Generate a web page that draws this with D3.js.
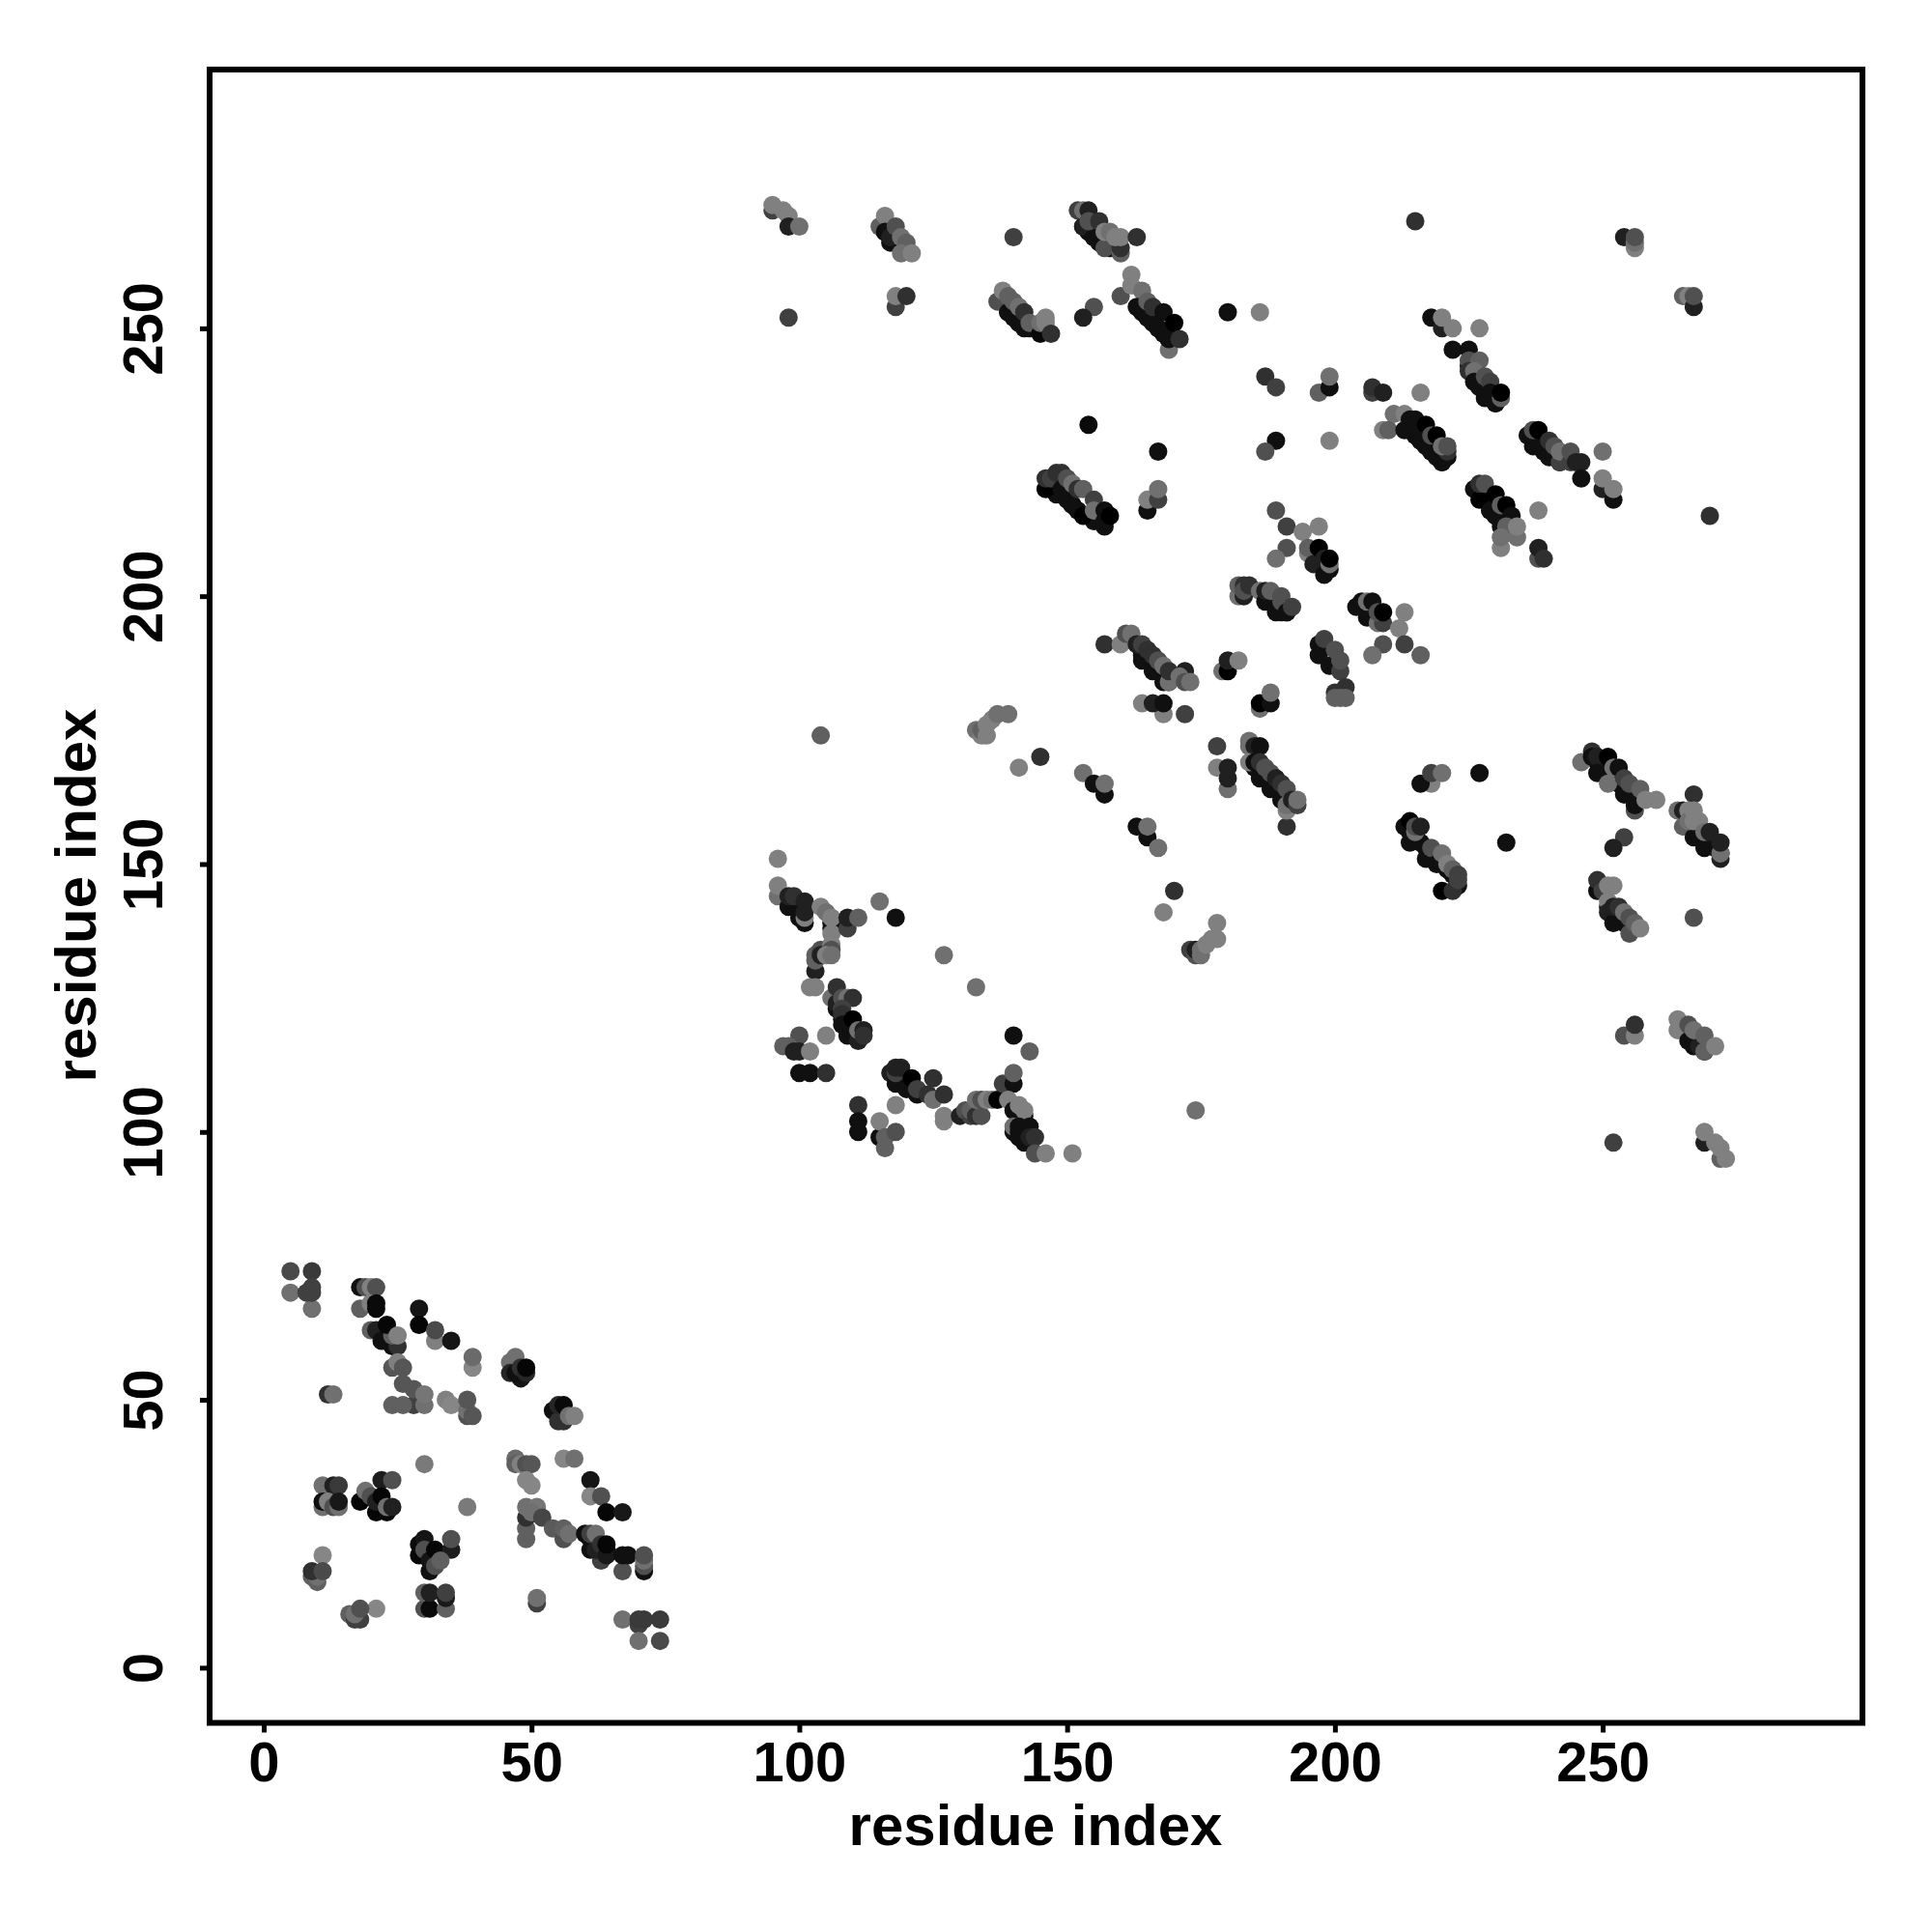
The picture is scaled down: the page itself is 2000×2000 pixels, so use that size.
<!DOCTYPE html>
<html><head><meta charset="utf-8"><script src="https://cdn.jsdelivr.net/npm/d3@7"></script>
<style>html,body{margin:0;background:#fff}text{font-family:"Liberation Sans",Arial,sans-serif;font-weight:bold;fill:#000}</style></head>
<body><div id="c"></div>
<script>
const xTicks=[0,50,100,150,200,250], yTicks=[0,50,100,150,200,250];
const axisTitle="residue index";
// contacts: [residue i, residue j, level]
const diagonalEdges=[[147,220,1],[148,219,1],[150,218,1],[151,217,1],[152,216,1],[154,215,1],[155,214,1],[156,214,1],[157,213,1],[164,253,1],[165,252,1],[166,251,1],[167,250,1],[168,249,1],[169,248,1],[170,248,1],[139,253,1],[140,252,1],[141,251,1],[142,250,1],[143,250,1],[153,269,1],[154,268,1],[155,267,1],[156,266,1],[157,266,1],[158,265,1],[116,268,1],[117,267,1],[118,266,1],[119,265,1],[225,243,1],[226,241,1],[227,240,1],[228,238,1],[229,237,1],[230,236,1],[214,231,1],[215,230,1],[216,229,1],[217,228,1],[218,227,1],[219,226,1],[220,225,1],[221,226,1],[237,229,1],[238,228,1],[239,227,1],[240,226,1],[241,226,1],[242,225,1],[227,219,1],[228,218,1],[229,216,1],[230,215,1],[231,214,1],[232,213,1],[164,189,1],[165,188,1],[166,187,1],[167,186,1],[168,185,1],[169,184,1],[185,168,1],[186,167,1],[187,166,1],[188,165,1],[189,164,1],[190,163,1],[191,162,1],[187,200,1],[188,199,1],[189,198,1],[190,197,1],[191,197,1],[214,156,1],[215,155,1],[216,154,1],[217,153,1],[218,152,1],[219,151,1],[220,150,1],[221,149,1],[222,148,1],[223,146,1],[249,169,1],[250,168,1],[251,167,1],[252,166,1],[253,165,1],[254,164,1],[255,163,1],[256,162,1],[268,156,1],[269,155,1],[270,154,1],[271,153,1],[272,152,1],[251,142,1],[252,141,1],[253,140,1],[254,139,1],[255,138,1],[266,118,1],[267,117,1],[268,116,1],[269,115,1],[107,123,1],[108,121,1],[109,120,1],[110,118,1],[119,110,1],[120,109,1],[121,108,1],[122,107,1],[140,105,1],[141,104,1],[142,103,1],[141,99,1],[142,99,1],[98,143,1],[99,142,1],[100,141,1],[101,139,1],[106,139,1],[61,24,1],[62,23,1],[63,21,1],[64,22,1],[22,63,1],[23,61,1],[24,61,1]];
const lowerBlock=[[5,74,4.6],[9,74,3.6],[5,70,7],[9,67,7],[8,70,4],[9,71,4],[9,70,4],[18,71,1],[19,71,5],[20,71,8],[21,71,5],[18,67,6],[20,68,8],[21,68,.6],[21,67,.6],[20,63,6],[21,63,2],[22,62,2],[22,61,1],[24,60,1],[25,60,3],[24,62,6],[23,64,.4],[25,62,8],[29,67,1.3],[29,64,.4],[32,61,8],[32,63,4.6],[35,61,1.3],[39,56,8.4],[39,58,6.6],[24,56,5.4],[25,57,8],[26,53,5.4],[26,56,5.4],[28,49,4],[28,52,5.4],[24,49,6],[26,49,6],[30,49,7],[30,51,7.4],[12,51,3],[13,51,7],[34,50,8],[35,49,8.4],[38,47,5],[38,48,7],[39,47,5.4],[38,50,5.4],[47,58,7],[46,57,7],[46,55,2.4],[48,54,1.3],[47,55,1],[48,56,3],[49,55,2.4],[49,56,.4],[54,48,1],[55,46,3],[56,46,3],[55,49,2.4],[56,49,.6],[57,47,7],[58,47,8],[47,39,6.6],[47,38,6],[48,38,8],[49,38,5],[50,38,5.4],[49,35,8.4],[50,34,8.4],[56,39,8.4],[58,39,7],[61,35,1.3],[61,32,8.4],[63,32,5],[64,29,.4],[67,29,1.5],[49,26,6],[49,24,6],[49,28,3],[49,30,7],[51,30,7.4],[50,29,7],[52,28,4.4],[54,26,5.6],[56,24,5],[56,26,6],[57,25,7],[60,25,1],[61,22,1],[63,20,4],[62,22,2],[61,25,4],[62,25,7],[63,23,3],[64,21,1.5],[64,23,.4],[67,18,5],[67,21,1],[68,21,1],[71,18,1],[71,19,5],[71,20,7],[71,21,5],[67,9,7],[70,8,4],[70,9,3.6],[71,9,3.6],[74,9,3.6],[70,5,7],[74,5,4.6],[51,12,4],[51,13,7],[30,38,7.6],[38,30,7.6],[11,34,7],[13,34,2],[14,34,3.6],[11,30,7],[11,31,1],[12,31,8],[13,30,5],[14,30,7],[14,31,1.5],[18,31,.4],[19,33,7],[20,32,5],[21,29,.4],[22,35,1.8],[24,35,5],[21,31,2],[22,32,.4],[23,29,.4],[23,30,7],[24,30,2],[29,21,.4],[29,23,.6],[30,24,1.3],[30,22,5],[31,18,1],[31,20,1.3],[32,22,.4],[35,22,1.8],[35,24,5],[32,19,5],[33,20,6],[11,21,8.4],[9,17,6],[10,16,6],[10,17,7],[9,18,3],[11,18,4.6],[21,11,8.4],[16,10,6],[17,9,4],[18,9,4],[17,10,7],[18,11,5],[30,11,5],[30,14,6],[31,11,.6],[31,14,2],[34,11,6],[34,13,1.6],[34,14,4]];
const middleBlock=[[96,151,8],[96,144,7],[96,146,8],[98,142,1],[98,144,2],[99,144,3],[100,140,1],[101,140,8],[101,141,2],[101,143,2],[104,142,8],[105,141,7],[106,138,1],[106,137,8],[106,140,8],[109,138,4],[109,140,2],[111,140,6],[115,143,7],[118,140,1],[103,130,2],[103,132,6],[103,133,6],[104,134,5],[104,133,2],[106,135,8],[106,134,5],[105,133,8],[106,133,7],[102,127,8],[103,127,8],[106,125,7],[107,124,2],[107,127,3],[108,125,5],[109,125,7],[110,125,3],[108,123,4],[108,122,3],[108,120,1],[109,118,1],[110,119,1],[110,121,0],[111,117,2],[111,119,7],[112,119,2],[112,118,3],[105,118,8],[100,118,5],[97,116,6],[98,116,6],[99,115,2],[100,115,2],[102,115,8],[100,111,1],[102,111,1],[105,111,3],[111,105,3],[111,102,1],[111,100,1],[115,99,1],[115,102,8],[116,97,6],[116,99,6],[118,100,5],[118,105,8],[117,111,2],[118,109,1],[118,111,4],[118,112,2],[119,112,2],[120,108,1],[121,110,0],[122,108,4],[124,107,3],[125,106,7],[125,110,3],[127,107,3],[127,102,8],[127,103,8],[130,103,2],[131,104,5],[132,103,4],[132,104,6],[133,103,3],[134,103,5],[133,106,7],[134,106,5],[135,106,8],[136,106,7],[137,106,0],[138,109,4],[140,109,1],[140,111,6],[139,106,8],[140,104,1],[141,105,8],[142,104,8],[140,118,1],[143,115,6],[140,100,1],[140,101,7],[141,100,1],[141,101,1],[142,98,1],[143,101,1],[143,99,2],[144,99,3],[144,96,5],[146,96,8],[151,96,8],[127,133,7],[133,127,7],[174,104,7],[170,145,3],[168,141,8],[173,134,4],[174,133,5],[174,134,2],[175,133,7],[175,134,7],[176,135,8],[177,136,8],[178,136,8],[178,139,8],[133,175,7],[134,174,8],[134,175,6],[135,174,8],[135,176,8],[136,177,8],[137,178,7],[139,178,7],[104,174,6],[145,170,3],[141,168,8],[153,167,7],[155,165,1],[157,163,1],[157,165,7],[163,157,1],[165,155,1],[165,157,7],[167,153,7]];
const topBlock=[[95,272,4],[95,273,8],[97,272,8],[98,271,8],[98,269,2],[100,269,7],[115,269,6],[116,271,8],[116,268,1],[117,266,1],[117,267,2],[118,269,5],[119,267,7],[120,266,6],[119,264,7],[121,264,8],[118,254,4],[118,256,8],[120,256,3],[98,252,4],[140,267,4],[152,272,4],[153,269,2],[153,272,7],[155,267,1],[154,272,2],[154,270,5],[156,270,3],[157,265,5],[157,268,8],[158,268,7],[160,264,6],[160,265,3],[159,267,8],[160,267,8],[163,267,3],[137,255,5],[138,257,8],[139,253,1],[139,256,6],[140,255,6],[141,251,1],[141,254,7],[142,253,3],[143,251,6],[145,249,.5],[145,251,7],[146,252,8],[146,251,8],[147,249,3],[155,254,5],[153,252,2],[160,256,5],[162,260,8],[162,258,8],[164,257,7],[163,254,1],[165,252,1],[165,255,6],[166,254,3],[167,250,1],[169,246,7],[169,248,1],[168,253,1],[170,251,0],[171,248,3],[180,253,1],[186,253,8],[154,232,.6],[167,227,1],[165,216,1],[165,218,8],[167,218,4],[167,220,7],[146,220,0],[146,222,3],[147,222,4],[148,223,3],[149,223,3],[149,220,1],[150,222,5],[151,217,1],[151,221,7],[152,220,3],[153,215,0],[153,220,6],[155,218,4],[156,215,1],[155,216,7],[157,214,1],[157,216,1],[158,215,0]];
const upperRight=[[215,270,3],[254,267,2],[256,265,8],[256,266,7],[256,267,5],[265,256,6],[266,256,8],[267,254,2],[267,256,5],[218,252,1],[220,250,2],[220,252,8],[222,250,8],[227,250,8],[222,246,1],[225,246,1],[225,244,5],[227,244,6],[225,242,3],[226,242,7],[226,240,1],[228,237,1],[227,239,1],[228,241,5],[229,240,4],[229,238,1],[230,236,1],[231,237,6],[231,238,0],[187,241,3],[189,239,4],[197,238,6],[199,239,1],[199,241,7],[207,238,4],[207,239,3],[209,238,2],[216,238,8],[211,234,7],[209,231,8],[210,231,6],[213,231,1],[213,234,8],[214,233,1],[215,233,1],[217,232,0],[216,229,1],[218,227,1],[218,230,5],[219,230,0],[220,225,1],[221,227,3],[220,228,7],[221,228,5],[236,230,1],[237,228,1],[237,231,5],[238,231,0],[240,226,1],[240,229,3],[241,228,5],[242,225,4],[242,227,7],[244,225,4],[244,227,5],[245,225,2],[246,225,2],[246,222,1],[250,227,7],[250,220,2],[250,222,8],[252,218,1],[252,220,8],[270,215,3],[238,216,8],[189,229,1],[187,227,5],[199,229,8],[226,220,1],[227,218,0],[227,221,3],[228,221,5],[229,216,1],[230,219,0],[231,213,1],[231,217,6],[232,217,0],[233,215,1],[232,213,6],[231,209,8],[231,211,7],[234,211,7],[234,213,8],[238,207,5],[238,209,2],[239,207,3]];
const centerBlock=[[189,216,5],[191,213,4],[194,212,8],[197,213,8],[191,209,5],[189,207,7],[195,208,8],[195,209,6],[196,206,2],[198,204,1],[197,209,0],[198,207,2],[199,205,1],[199,206,7],[199,207,0],[182,200,7],[183,200,2],[182,202,6],[183,202,3],[183,201,5],[184,202,3],[186,201,7],[187,199,1],[187,201,2],[189,197,1],[188,201,6],[190,200,5],[190,199,5],[191,197,1],[192,198,4],[204,198,1],[205,199,1],[206,196,1],[206,199,7],[207,199,1],[208,195,7],[209,195,4],[208,197,5],[209,197,0],[213,197,8],[212,194,8],[209,191,5],[207,189,7],[213,191,4],[216,189,6],[197,189,1],[197,191,1],[198,192,4],[199,187,1],[200,190,5],[201,186,4],[201,188,5],[200,182,3],[202,183,3],[200,181,6],[201,181,6],[202,181,6],[157,191,3],[160,191,8],[161,193,5],[162,193,7],[164,188,1],[163,191,2],[164,191,4],[165,190,3],[166,186,1],[166,189,3],[167,188,5],[168,184,1],[168,187,7],[169,184,7],[169,186,3],[172,186,2],[171,185,7],[172,184,5],[173,184,7],[164,180,8],[168,178,8],[166,180,2],[168,180,1],[172,178,4],[179,186,7],[180,186,0],[180,188,2],[182,188,8],[186,179,7],[186,180,0],[188,180,1],[188,182,7],[178,172,4],[178,168,8],[180,164,7],[180,166,2],[180,168,2],[184,173,7],[184,172,7],[185,172,2],[186,172,1],[184,169,8],[185,169,1],[186,166,1],[186,169,3],[187,168,5],[188,164,1],[188,167,5],[189,166,2],[190,162,1],[190,165,3],[191,164,5],[191,157,3],[191,160,8],[191,161,7],[192,162,2],[193,161,4],[193,162,7],[218,165,8],[216,165,1],[218,167,4],[220,167,7],[227,167,1]];
const rightBlock=[[232,154,1],[213,157,1],[214,154,1],[214,158,0],[215,156,7],[215,157,5],[216,157,2],[217,151,1],[218,153,5],[219,150,1],[220,145,0],[220,152,7],[221,150,8],[222,145,3],[222,149,6],[223,147,4],[223,148,4],[246,169,7],[248,171,3],[248,170,1],[249,170,2],[251,170,0],[249,167,1],[252,168,7],[253,168,1],[251,165,7],[254,163,1],[254,166,4],[255,165,5],[256,160,5],[256,161,1],[257,164,6],[258,162,8],[260,162,8],[254,155,4],[252,153,2],[267,163,3],[264,160,7],[265,157,6],[265,160,2],[266,160,8],[267,155,1],[269,153,1],[266,158,7],[267,158,8],[268,158,8],[269,156,7],[267,160,8],[270,156,2],[272,151,2],[272,152,7],[272,154,2],[249,145,1],[249,147,3],[250,145,4],[251,143,8],[251,146,8],[252,146,8],[251,141,2],[252,139,1],[252,142,2],[253,142,3],[254,141,7],[255,137,5],[255,140,5],[256,139,6],[257,138,8],[267,140,5],[254,118,5],[256,118,8],[256,120,3],[264,119,8],[264,121,8],[266,117,1],[267,116,1],[266,120,5],[268,116,2],[267,119,7],[269,115,6],[269,118,6],[271,116,8],[252,98,4],[269,98,2],[269,100,8],[271,98,8],[272,95,6],[272,97,8],[273,95,8]];

const allContacts=diagonalEdges.concat(lowerBlock,middleBlock,topBlock,upperRight,centerBlock,rightBlock);
const L=217,R=1928,T=72,B=1783.5;
const x=d3.scaleLinear().domain([-10.1,298.5]).range([L,R]);
const y=d3.scaleLinear().domain([-10.3,298.3]).range([B,T]);
const shade=d3.scaleLinear().domain([0,9]).range(["#000000","#909090"]);
const svg=d3.select("#c").append("svg").attr("width",2000).attr("height",2000);
svg.append("rect").attr("width",2000).attr("height",2000).attr("fill","#fff");
svg.append("g").selectAll("circle").data(allContacts).join("circle")
  .attr("cx",d=>x(d[0])).attr("cy",d=>y(d[1])).attr("r",9.5).attr("fill",d=>shade(d[2]));
svg.append("rect").attr("x",L).attr("y",T).attr("width",R-L).attr("height",B-T).attr("fill","none").attr("stroke","#000").attr("stroke-width",6);
const gx=svg.append("g").attr("transform",`translate(0,${B})`).call(d3.axisBottom(x).tickValues(xTicks).tickSize(10).tickPadding(5));
const gy=svg.append("g").attr("transform",`translate(${L},0)`).call(d3.axisLeft(y).tickValues(yTicks).tickSize(10).tickPadding(5));
[gx,gy].forEach(g=>{g.select(".domain").remove();g.selectAll(".tick line").attr("stroke","#000").attr("stroke-width",5);g.selectAll("text").style("font-size","58px");});
gx.selectAll("text").attr("dy",null).attr("y",60).attr("dominant-baseline","auto").attr("text-anchor","middle");
gy.selectAll("text").attr("x",null).attr("dy",null).attr("transform","translate(-49,0) rotate(-90)").attr("text-anchor","middle").attr("dominant-baseline","auto");
svg.append("text").attr("x",1072).attr("y",1910).attr("text-anchor","middle").style("font-size","60px").text(axisTitle);
svg.append("text").attr("transform","translate(99,927) rotate(-90)").attr("text-anchor","middle").style("font-size","60px").text(axisTitle);
</script></body></html>
